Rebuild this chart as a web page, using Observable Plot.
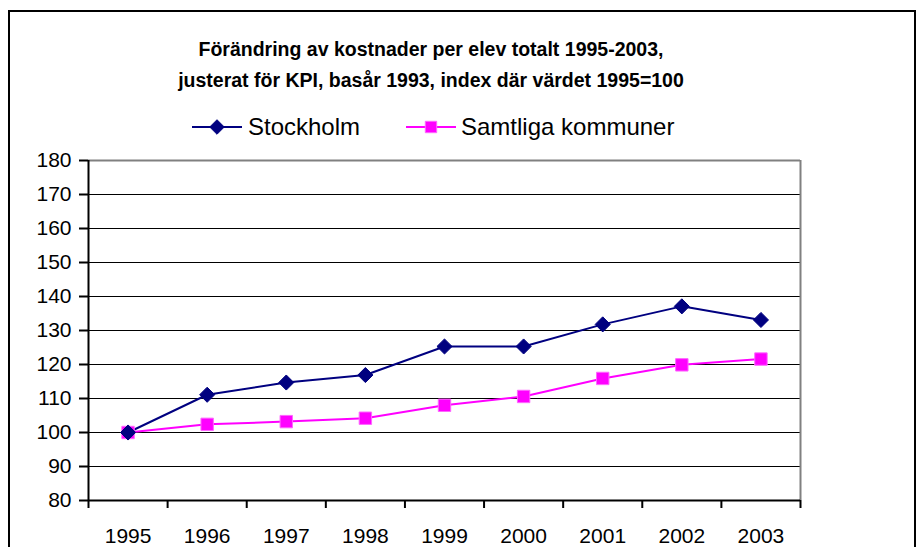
<!DOCTYPE html>
<html>
<head>
<meta charset="utf-8">
<script src="https://cdn.jsdelivr.net/npm/d3@7"></script>
<script src="https://cdn.jsdelivr.net/npm/@observablehq/plot@0.6"></script>
<style>
  html, body { margin: 0; padding: 0; background: #fff; width: 923px; height: 547px; overflow: hidden; font-family: Arial, "Liberation Sans", sans-serif; }
  #frame { position: absolute; left: 8px; top: 10px; width: 908px; height: 600px; border: 2px solid #000; box-sizing: border-box; }
  .title { position: absolute; left: 0; width: 862px; text-align: center; font-weight: bold; font-size: 19.5px; line-height: 22px; color: #000; white-space: nowrap; }
  #chart { position: absolute; left: 0; top: 140px; }
</style>
</head>
<body>
<div id="frame"></div>
<div class="title" style="top:38px">Förändring av kostnader per elev totalt 1995-2003,</div>
<div class="title" style="top:69px">justerat för KPI, basår 1993, index där värdet 1995=100</div>
<div id="legend"></div>
<div id="chart"></div>
<script>
const years = [1995, 1996, 1997, 1998, 1999, 2000, 2001, 2002, 2003];
const stockholm = [100, 111.1, 114.7, 116.9, 125.3, 125.3, 131.8, 137.1, 133.1];
const samtliga = [100, 102.4, 103.2, 104.2, 108.0, 110.6, 115.9, 119.9, 121.6];
const seriesNames = ["Stockholm", "Samtliga kommuner"];
const yTicks = [80, 90, 100, 110, 120, 130, 140, 150, 160, 170, 180];

const navy = "#000080", pink = "#FF00FF";

const data = [
  ...years.map((y, i) => ({year: y, value: stockholm[i], series: seriesNames[0]})),
  ...years.map((y, i) => ({year: y, value: samtliga[i], series: seriesNames[1]}))
];
const boundaries = [years[0] - 0.5, ...years.map(y => y + 0.5)];
const xDomain = [years[0] - 0.5, years[years.length - 1] + 0.5];
const yDomain = [yTicks[0], yTicks[yTicks.length - 1]];

const chart = Plot.plot({
  width: 923,
  height: 407,
  marginLeft: 88,
  marginRight: 123,
  marginTop: 20,
  marginBottom: 47,
  style: {fontFamily: "Arial, 'Liberation Sans', sans-serif", fontSize: "21px", color: "#000", background: "transparent", overflow: "visible"},
  x: {type: "linear", domain: xDomain},
  y: {type: "linear", domain: yDomain},
  marks: [
    Plot.gridY(yTicks.slice(1, -1), {stroke: "#000", strokeOpacity: 1, strokeWidth: 1}),
    Plot.ruleY([yDomain[1]], {stroke: "#808080", strokeWidth: 2}),
    Plot.ruleX([xDomain[1]], {stroke: "#808080", strokeWidth: 2}),
    Plot.ruleX([xDomain[0]], {stroke: "#000", strokeWidth: 2}),
    Plot.ruleY([yDomain[0]], {stroke: "#000", strokeWidth: 2}),
    Plot.axisY(yTicks, {tickSize: 9, tickPadding: 8, label: null, tickFormat: d => String(d), strokeWidth: 2, fontSize: 21}),
    Plot.axisX(boundaries, {tickSize: 8, tickFormat: () => "", label: null, strokeWidth: 2}),
    Plot.axisX(years, {tickSize: 0, tickPadding: 28, label: null, tickFormat: d => String(d), fontSize: 21}),
    Plot.line(data.filter(d => d.series === seriesNames[1]), {x: "year", y: "value", stroke: pink, strokeWidth: 2}),
    Plot.line(data.filter(d => d.series === seriesNames[0]), {x: "year", y: "value", stroke: navy, strokeWidth: 2}),
    Plot.dot(data.filter(d => d.series === seriesNames[1]), {x: "year", y: "value", symbol: "square", r: 7, fill: pink, stroke: "#FF66FF", strokeWidth: 1}),
    Plot.dot(data.filter(d => d.series === seriesNames[0]), {x: "year", y: "value", symbol: "diamond2", r: 6.8, fill: navy, stroke: navy, strokeWidth: 1})
  ]
});
document.getElementById("chart").appendChild(chart);

// Legend
const legend = d3.select("#legend");
const legItems = [
  {name: seriesNames[0], color: navy, symbol: d3.symbolDiamond2, x0: 192, textX: 248},
  {name: seriesNames[1], color: pink, symbol: d3.symbolSquare, x0: 406, textX: 461}
];
const lsvg = legend.append("svg").attr("width", 923).attr("height", 40)
  .style("position", "absolute").style("left", "0px").style("top", "108px");
legItems.forEach(it => {
  lsvg.append("line").attr("x1", it.x0).attr("x2", it.x0 + 50).attr("y1", 19).attr("y2", 19)
    .attr("stroke", it.color).attr("stroke-width", 2);
  lsvg.append("path").attr("d", d3.symbol(it.symbol, it.symbol === d3.symbolSquare ? 130 : 135)())
    .attr("transform", `translate(${it.x0 + 25},19)`).attr("fill", it.color)
    .attr("stroke", it.symbol === d3.symbolSquare ? "#FF66FF" : it.color);
  lsvg.append("text").attr("x", it.textX).attr("y", 19).attr("dy", "0.35em")
    .attr("font-family", "Arial, 'Liberation Sans', sans-serif").attr("font-size", 24)
    .text(it.name);
});
</script>
</body>
</html>
